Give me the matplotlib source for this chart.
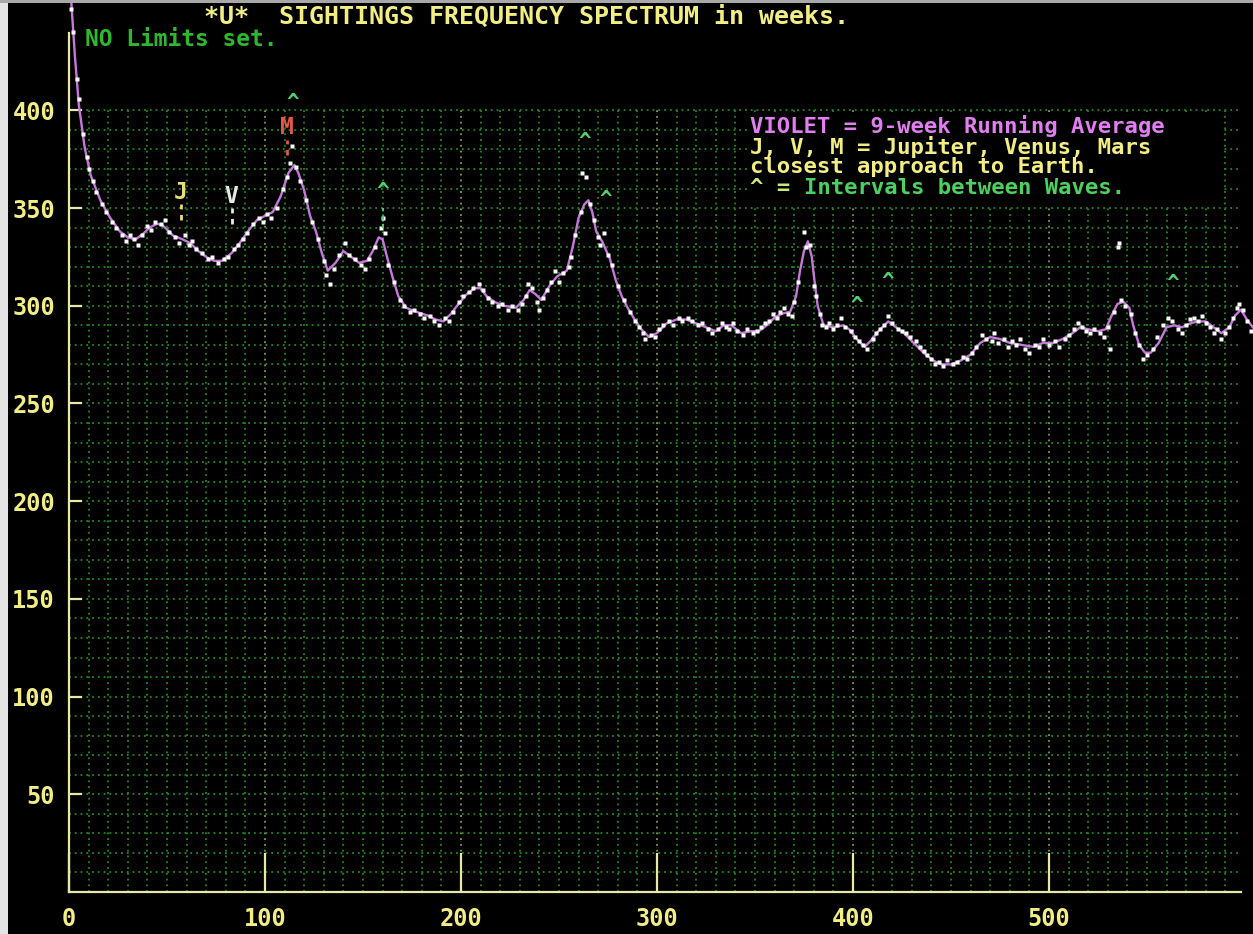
import numpy as np
import matplotlib.pyplot as plt
from matplotlib.patches import Rectangle

# 9-week running average (violet line): week, sightings
avg_weeks = [1, 3, 5, 8, 11, 16, 21, 26, 30, 34, 38, 41, 45, 48, 53, 58, 62, 66, 70, 74,
             78, 83, 87, 92, 96, 100, 104, 108, 112, 115, 117, 120, 123, 126, 129, 132, 136, 140, 144, 148,
             152, 155, 158, 160, 162, 165, 168, 172, 177, 183, 187, 191, 195, 198, 203, 207, 210, 213, 217, 222,
             228, 232, 235, 238, 241, 245, 249, 254, 257, 260, 263, 265, 267, 269, 272, 276, 279, 282, 285, 288,
             292, 296, 300, 305, 310, 315, 320, 325, 330, 334, 338, 343, 348, 352, 356, 360, 364, 368, 371, 373,
             375, 377, 379, 380, 382, 385, 390, 395, 398, 402, 406, 409, 413, 418, 422, 426, 431, 436, 441, 445,
             450, 455, 460, 465, 470, 475, 480, 486, 492, 497, 502, 507, 512, 516, 520, 525, 529, 532, 535, 538,
             541, 543, 546, 549, 552, 556, 560, 564, 568, 572, 576, 580, 584, 588, 592, 595, 598, 601, 604]
avg_vals = [458, 428, 403, 381, 367, 354, 345, 338, 335, 334, 337, 340, 342, 341, 336, 334, 332, 328, 325, 323,
            323, 327, 332, 339, 344, 346, 348, 356, 368, 372, 368, 359, 346, 338, 327, 318, 322, 328, 325, 322,
            323, 328, 335, 334, 326, 315, 305, 299, 297, 295, 293, 292, 296, 300, 306, 309, 309, 305, 302, 300,
            299, 303, 308, 306, 303, 310, 315, 318, 330, 345, 352, 354, 348, 338, 333, 324, 313, 305, 299, 294,
            288, 284, 286, 291, 293, 293, 291, 289, 287, 290, 290, 286, 287, 287, 290, 294, 296, 297, 305, 318,
            328, 333, 325, 316, 300, 290, 289, 290, 288, 283, 279, 282, 287, 292, 289, 286, 281, 276, 272, 270,
            270, 272, 275, 281, 284, 283, 281, 280, 279, 281, 281, 283, 286, 289, 288, 287, 288, 295, 301, 302,
            299, 290, 280, 276, 276, 281, 289, 290, 289, 291, 292, 292, 289, 286, 289, 295, 298, 293, 289]

# weekly counts (white dots)
dot_weeks = [1, 2, 4, 5, 7, 9, 10, 12, 14, 17, 19, 22, 24, 27, 29, 31, 33, 35, 37, 40,
             42, 44, 47, 49, 51, 54, 56, 59, 61, 63, 65, 68, 71, 73, 76, 79, 81, 84, 86, 89,
             91, 94, 97, 99, 101, 103, 106, 109, 111, 113, 114, 116, 118, 121, 124, 127, 130, 131, 133, 135,
             138, 141, 143, 146, 149, 151, 153, 156, 159, 160, 161, 163, 166, 169, 171, 174, 176, 179, 181, 184,
             186, 189, 192, 194, 196, 199, 201, 204, 206, 209, 211, 214, 216, 219, 221, 224, 226, 229, 231, 233,
             234, 236, 239, 240, 242, 244, 246, 248, 250, 252, 255, 256, 258, 261, 262, 264, 266, 268, 270, 271,
             273, 275, 277, 280, 283, 286, 289, 291, 293, 294, 297, 299, 301, 303, 306, 308, 311, 313, 316, 318,
             321, 323, 326, 328, 331, 333, 335, 337, 339, 341, 344, 346, 349, 351, 353, 355, 357, 359, 361, 363,
             365, 367, 369, 370, 372, 375, 376, 378, 380, 381, 383, 384, 386, 388, 390, 392, 394, 396, 399, 401,
             403, 405, 407, 410, 412, 414, 416, 418, 420, 423, 425, 427, 429, 432, 434, 436, 438, 440, 442, 444,
             446, 448, 451, 453, 456, 458, 461, 463, 466, 468, 471, 472, 474, 477, 479, 481, 483, 485, 488, 490,
             493, 495, 497, 500, 503, 505, 508, 510, 513, 515, 517, 519, 521, 523, 526, 528, 530, 531, 533, 535,
             536, 537, 539, 542, 544, 546, 548, 550, 553, 555, 558, 561, 563, 566, 568, 570, 572, 574, 576, 578,
             580, 582, 584, 586, 588, 590, 592, 594, 596, 597, 599, 601, 603]
dot_vals = [452, 440, 416, 406, 388, 376, 370, 364, 358, 352, 348, 343, 340, 336, 333, 336, 334, 331, 336, 341,
            339, 343, 342, 344, 338, 335, 332, 336, 331, 333, 329, 327, 324, 325, 322, 324, 325, 329, 331, 334,
            337, 342, 345, 343, 347, 345, 350, 360, 366, 373, 382, 371, 364, 354, 343, 334, 323, 316, 311, 319,
            326, 332, 326, 324, 321, 319, 324, 330, 340, 345, 337, 321, 312, 303, 300, 297, 298, 296, 294, 295,
            292, 290, 294, 292, 297, 302, 305, 307, 309, 311, 308, 304, 302, 300, 301, 298, 300, 298, 301, 305,
            311, 309, 302, 298, 304, 308, 312, 318, 312, 317, 320, 325, 336, 348, 368, 366, 352, 344, 335, 331,
            337, 326, 321, 310, 303, 297, 292, 289, 286, 283, 285, 284, 288, 290, 292, 290, 294, 292, 294, 292,
            290, 291, 288, 286, 288, 291, 289, 288, 291, 287, 285, 288, 286, 287, 289, 291, 292, 296, 294, 297,
            299, 296, 295, 302, 312, 338, 330, 331, 310, 305, 296, 290, 289, 291, 288, 290, 294, 289, 287, 284,
            282, 280, 278, 283, 286, 288, 290, 295, 291, 288, 287, 286, 284, 282, 279, 277, 275, 273, 270, 271,
            269, 272, 270, 271, 274, 273, 276, 279, 285, 283, 282, 286, 281, 283, 279, 282, 280, 283, 278, 276,
            280, 279, 283, 280, 282, 279, 283, 285, 288, 291, 289, 287, 286, 288, 286, 284, 289, 278, 297, 330,
            332, 303, 300, 296, 286, 280, 273, 275, 278, 284, 290, 294, 292, 288, 286, 290, 293, 294, 292, 295,
            291, 289, 286, 288, 283, 286, 289, 294, 299, 301, 298, 292, 287]

# planet markers: label, week, level, colour
planets = [("J", 57, 358, "#e8e070"), ("V", 83, 356, "#e8e8e8"), ("M", 111, 391, "#e05848")]
# "^" wave-interval markers
wave_weeks = [114, 160, 263, 274, 402, 418, 563]
wave_vals = [404, 358, 384, 354, 300, 312, 311]

W, H = 1253, 934
fig = plt.figure(figsize=(W / 100, H / 100), dpi=100, facecolor="black")
ax = fig.add_axes([69 / W, (H - 892) / H, (1241 - 69) / W, (892 - 33) / H])
ax.set_facecolor("black")
ax.set_xlim(0, 598)
ax.set_ylim(0, 439.6)

yellow = "#f2ee84"
grid_c = "#228a22"
font = "DejaVu Sans Mono"
fs = 16.5
fk = 16  # key text size

# dotted grid, only up to 400
for gx in range(10, 600, 10):
    c = "#7f9c58" if gx % 100 == 0 else grid_c
    ax.plot([gx, gx], [0, 400], color=c, lw=1.3, ls=(0, (1, 2.2)), zorder=1)
for gy in range(10, 410, 10):
    ax.plot([0, 598], [gy, gy], color=grid_c, lw=1.3, ls=(0, (1, 2.2)), zorder=1)

# black box behind the key
ax.add_patch(Rectangle((347, 351), 241, 47.5, facecolor="black", edgecolor="none", zorder=2))

for side in ["top", "right"]:
    ax.spines[side].set_visible(False)
for side in ["left", "bottom"]:
    ax.spines[side].set_color("#e8e8a8")
    ax.spines[side].set_linewidth(1.6)

ax.set_xticks([0, 100, 200, 300, 400, 500])
ax.set_yticks([50, 100, 150, 200, 250, 300, 350, 400])
ax.tick_params(axis="x", direction="in", length=28, width=1.6, color="#e8e8a8", pad=11,
               labelcolor=yellow, labelsize=17)
ax.tick_params(axis="y", direction="in", length=9, width=1.6, color="#e8e8a8", pad=10,
               labelcolor=yellow, labelsize=17)
for lab in ax.get_xticklabels() + ax.get_yticklabels():
    lab.set_fontfamily(font)
    lab.set_fontweight("bold")

# data
ax.plot(avg_weeks, avg_vals, color="#c878dc", lw=1.7, zorder=4, clip_on=False)
ax.plot(dot_weeks, dot_vals, ls="none", marker="s", ms=2.4, color="white", mec="none",
        zorder=5, clip_on=False)

# planets
for lab, wk, lv, col in planets:
    ax.text(wk, lv, lab, color=col, fontsize=fs, fontfamily=font, fontweight="bold",
            ha="center", va="center", zorder=6)
    ax.plot([wk, wk], [lv - 14, lv - 6], color=col, lw=2, ls=(0, (2, 2)), zorder=6)

# wave markers
for wk, lv in zip(wave_weeks, wave_vals):
    ax.text(wk, lv, "^", color="#50d070", fontsize=15, fontfamily=font, fontweight="bold",
            ha="center", va="center", zorder=6)
ax.plot([160, 160], [340, 350], color="#60c070", lw=1.5, ls=(0, (2, 2)), zorder=6)

# key
kx = 750 / W
cw = 0.602 * fk * 100 / 72  # character width in px
fig.text(kx, 1 - 126 / H, "VIOLET = 9-week Running Average", color="#e27ef2", fontsize=fk,
         fontfamily=font, fontweight="bold", va="center")
fig.text(kx, 1 - 147 / H, "J, V, M = Jupiter, Venus, Mars", color=yellow, fontsize=fk,
         fontfamily=font, fontweight="bold", va="center")
fig.text(kx, 1 - 167 / H, "closest approach to Earth.", color=yellow, fontsize=fk,
         fontfamily=font, fontweight="bold", va="center")
fig.text(kx, 1 - 188 / H, "^ =", color="#c8e880", fontsize=fk,
         fontfamily=font, fontweight="bold", va="center")
fig.text(kx + 4 * cw / W, 1 - 188 / H, "Intervals between Waves.", color="#4cd060", fontsize=fk,
         fontfamily=font, fontweight="bold", va="center")

# title
fig.text(526 / W, 1 - 17 / H, "*U*  SIGHTINGS FREQUENCY SPECTRUM in weeks.", color=yellow,
         fontsize=18, fontfamily=font, fontweight="bold", ha="center", va="center")
fig.text(85 / W, 1 - 40 / H, "NO Limits set.", color="#2eb82e", fontsize=fs,
         fontfamily=font, fontweight="bold", va="center")

# screen border
fig.patches.append(Rectangle((0, 0), 8 / W, 1, transform=fig.transFigure,
                             facecolor="#e4e4e4", edgecolor="none", zorder=10))
fig.patches.append(Rectangle((0, 1 - 3 / H), 1, 3 / H, transform=fig.transFigure,
                             facecolor="#a8a8a8", edgecolor="none", zorder=10))

fig.savefig("out.png", dpi=100, facecolor="black")
